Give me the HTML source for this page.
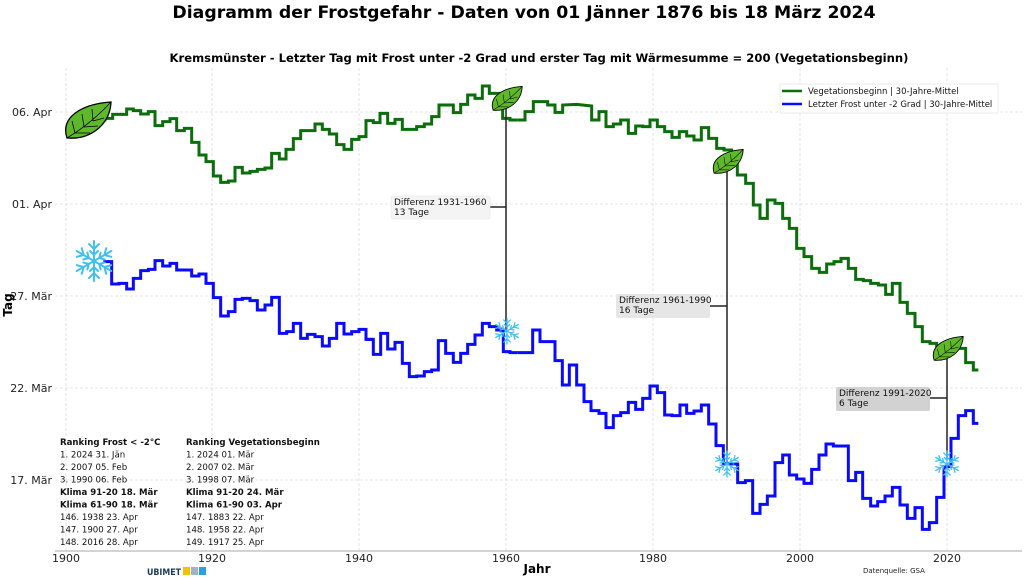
<!DOCTYPE html>
<html><head><meta charset="utf-8"><style>
body{margin:0;background:#fff;}
svg{display:block;font-family:"DejaVu Sans","Liberation Sans",sans-serif;}
</style></head><body>
<svg width="1024" height="578" viewBox="0 0 1024 578" xmlns="http://www.w3.org/2000/svg">
<defs>
<g id="leaf">
 <path d="M-21,17 C-28,-4 -6,-17 23,-19 C22,4 2,19 -21,17 Z" fill="#5fb82a" stroke="#000" stroke-width="1.3"/>
 <path d="M-21,17 C-6,8 10,-5 23,-19 M-13,12 L-16,0 M-13,12 L2,12 M-4,6 L-6,-7 M-4,6 L10,5 M5,0 L4,-12 M5,0 L16,-3" stroke="#000" stroke-width="0.8" fill="none"/>
</g>
<g id="flake" stroke="#3fc0f0" stroke-width="2" fill="none" stroke-linecap="round">
 <g id="arm"><line x1="0" y1="0" x2="0" y2="-20"/><polyline points="-5,-17 0,-12 5,-17"/><polyline points="-4,-10 0,-6 4,-10"/></g>
 <use href="#arm" transform="rotate(60)"/><use href="#arm" transform="rotate(120)"/><use href="#arm" transform="rotate(180)"/><use href="#arm" transform="rotate(240)"/><use href="#arm" transform="rotate(300)"/>
</g>
</defs>
<text x="524" y="18" text-anchor="middle" font-size="17.3" font-weight="bold">Diagramm der Frostgefahr - Daten von 01 Jänner 1876 bis 18 März 2024</text>
<text x="539" y="62" text-anchor="middle" font-size="11.6" font-weight="bold">Kremsmünster - Letzter Tag mit Frost unter -2 Grad und erster Tag mit Wärmesumme = 200 (Vegetationsbeginn)</text>
<g stroke="#dcdcdc" stroke-width="0.8" stroke-dasharray="3,2">
<line x1="66" y1="68" x2="66" y2="551"/><line x1="212" y1="68" x2="212" y2="551"/><line x1="359" y1="68" x2="359" y2="551"/><line x1="506" y1="68" x2="506" y2="551"/><line x1="653" y1="68" x2="653" y2="551"/><line x1="800" y1="68" x2="800" y2="551"/><line x1="947" y1="68" x2="947" y2="551"/>
<line x1="55" y1="112" x2="1022" y2="112"/><line x1="55" y1="204" x2="1022" y2="204"/><line x1="55" y1="296" x2="1022" y2="296"/><line x1="55" y1="388" x2="1022" y2="388"/><line x1="55" y1="480" x2="1022" y2="480"/>
</g>
<line x1="55" y1="551" x2="1022" y2="551" stroke="#aaa" stroke-width="1"/>
<g font-size="11" text-anchor="end" fill="#222">
<text x="52" y="116">06. Apr</text><text x="52" y="208">01. Apr</text><text x="52" y="300">27. Mär</text><text x="52" y="392">22. Mär</text><text x="52" y="484">17. Mär</text>
</g>
<g font-size="11" text-anchor="middle" fill="#222">
<text x="66" y="562">1900</text><text x="212" y="562">1920</text><text x="359" y="562">1940</text><text x="506" y="562">1960</text><text x="653" y="562">1980</text><text x="800" y="562">2000</text><text x="947" y="562">2020</text>
</g>
<text x="537" y="573" text-anchor="middle" font-size="12" font-weight="bold">Jahr</text>
<text transform="translate(12,305) rotate(-90)" text-anchor="middle" font-size="12" font-weight="bold">Tag</text>

<g fill="none" stroke="#0a6e0a" stroke-width="3">
<polyline vector-effect="non-scaling-stroke" transform="translate(0,60) scale(0.33333)" points="290,180 315,180 315,175 338,175 338,163 380,163 380,147 400,147 400,152 422,152 422,162 445,162 445,155 465,155 465,197 488,197 488,185 510,185 510,176 530,176 530,212 553,212 553,205 575,205 575,247 597,247 597,285 618,285 618,305 640,305 640,348 662,348 662,367 685,367 685,363 705,363 705,322 727,322 727,339 750,339 750,334 772,334 772,328 795,328 795,324 815,324 815,280 838,280 838,297 858,297 858,268 880,268 880,236 902,236 902,212 945,212 945,192 967,192 967,208 988,208 988,222 1010,222 1010,254 1032,254 1032,268 1055,268 1055,238 1077,238 1077,230 1098,230 1098,182 1120,182 1120,188 1140,188 1140,160 1163,160 1163,190 1185,190 1185,178 1207,178 1207,208 1250,208 1250,200 1273,200 1273,192 1295,192 1295,170 1317,170 1317,135 1360,135 1360,158 1382,158 1382,133 1403,133 1403,105 1425,105 1425,115 1447,115 1447,78 1468,78 1468,100 1508,100 1508,175 1530,175 1530,180 1553,180"/>
<polyline vector-effect="non-scaling-stroke" transform="translate(500,60) scale(0.33333)" points="53,180 75,180 75,155 100,155 100,125 143,125 143,135 165,135 165,157 188,157 188,135 230,133 275,138 275,180 297,180 297,155 318,155 318,200 340,200 340,192 362,192 362,180 385,180 385,220 407,220 407,198 428,198 428,200 450,200 450,180 472,180 472,200 494,200 494,215 516,215 516,232 538,232 538,215 560,215 560,228 582,228 582,240 604,240 604,203 626,203 626,235 650,235 650,265 672,265 672,270 695,270 695,295 712,295 712,345 737,345 737,370 760,370 760,435 780,435 780,475 802,475 802,420 825,420 825,430 848,430 848,475 868,475 868,505 890,505 890,565 912,565 912,590 935,590 935,625 958,625 958,637 980,637 980,612 1002,612 1002,605 1023,605 1023,595 1045,595 1045,625 1067,625 1067,658 1090,658 1090,662 1112,662 1112,670 1135,670 1135,675 1157,675 1157,703 1177,703 1177,670 1200,670 1200,727 1222,727 1222,760 1245,760 1245,800 1267,800 1267,845 1290,845 1290,850 1310,850 1310,858 1375,865 1397,865 1397,908 1420,908 1420,930 1435,930"/>
</g>
<g fill="none" stroke="#0a0aff" stroke-width="3">
<polyline vector-effect="non-scaling-stroke" transform="translate(0,60) scale(0.33333)" points="310,605 335,605 335,672 357,672 357,670 380,670 380,687 400,687 400,655 422,655 422,632 445,632 445,628 465,628 465,602 488,602 488,618 510,618 510,610 530,610 530,630 575,630 575,648 597,648 597,642 618,642 618,670 640,670 640,713 662,713 662,768 685,768 685,755 705,755 705,718 727,718 727,715 750,715 750,722 772,722 772,750 795,750 795,735 815,735 815,712 838,712 838,820 860,820 860,815 880,815 880,790 902,790 902,835 922,835 922,823 945,823 945,830 967,830 967,858 988,858 988,835 1010,835 1010,790 1032,790 1032,822 1055,822 1055,815 1077,815 1077,808 1098,808 1098,838 1120,838"/>
<polyline vector-effect="non-scaling-stroke" transform="translate(0,330) scale(0.33333)" points="1098,28 1120,28 1120,73 1142,73 1142,10 1163,10 1163,57 1185,57 1185,37 1207,37 1207,100 1228,100 1228,140 1250,140 1250,138 1273,138 1273,125 1295,125 1295,120 1315,120 1315,32 1337,32 1337,70 1360,70 1360,97 1382,97 1382,70 1403,70 1403,43 1425,43 1425,15 1447,15 1447,-20 1468,-20 1468,-10 1490,-10 1490,0 1510,0 1510,65 1530,65 1530,68 1552,68"/>
<polyline vector-effect="non-scaling-stroke" transform="translate(500,330) scale(0.33333)" points="52,68 98,68 98,0 120,0 120,35 165,35 165,92 187,92 187,165 208,165 208,105 230,105 230,165 252,165 252,215 273,215 273,242 297,242 297,250 318,250 318,293 340,293 340,257 362,257 362,248 385,248 385,217 407,217 407,238 428,238 428,205 450,205 450,168 472,168 472,188 494,188 494,255 516,255 516,257 540,257 540,225 560,225 560,250 582,250 582,243 604,243 604,225 626,225 626,282 648,282 648,347 670,347 670,400 692,400 692,402 713,402 713,458 736,458 736,452 758,452 758,550 780,550 780,523 802,523 802,498 825,498 825,398 848,398 848,375 868,375 868,435 890,435 890,447 912,447 912,460 935,460 935,418 957,418 957,375 978,375 978,342 1000,342 1000,348 1045,348 1045,452 1067,452 1067,427 1088,427 1088,505 1112,505 1112,528 1133,528 1133,515 1155,515 1155,498 1177,498 1177,472 1200,472 1200,525 1222,525 1222,565 1245,565 1245,533 1267,533 1267,598 1288,598 1288,578 1310,578 1310,502 1332,502 1332,410 1353,410 1353,325 1375,325 1375,257 1397,257 1397,242 1420,242 1420,280 1435,280"/>
</g>
<g stroke="#222" stroke-width="1.5" fill="none">
<line x1="506" y1="100" x2="506" y2="330"/><line x1="490" y1="207" x2="506" y2="207"/>
<line x1="727" y1="170" x2="727" y2="465"/><line x1="710" y1="306" x2="727" y2="306"/>
<line x1="947" y1="355" x2="947" y2="460"/><line x1="930" y1="398" x2="947" y2="398"/>
</g>
<rect x="391" y="196" width="99" height="23" rx="2" fill="#f4f4f4" stroke="#e4e4e4" stroke-width="0.6"/>
<rect x="616" y="294" width="94" height="24" rx="2" fill="#e6e6e6"/>
<rect x="836" y="387" width="94" height="24" rx="2" fill="#d2d2d2"/>
<g font-size="9" fill="#111">
<text x="394" y="205">Differenz 1931-1960</text><text x="394" y="215">13 Tage</text>
<text x="619" y="303">Differenz 1961-1990</text><text x="619" y="313">16 Tage</text>
<text x="839" y="396">Differenz 1991-2020</text><text x="839" y="406">6 Tage</text>
</g>
<use href="#leaf" transform="translate(88,121)"/>
<use href="#leaf" transform="translate(507,99) scale(0.66)"/>
<use href="#leaf" transform="translate(728,162) scale(0.66)"/>
<use href="#leaf" transform="translate(948,349) scale(0.66)"/>
<use href="#flake" transform="translate(94,261) scale(1.0)"/>
<use href="#flake" transform="translate(507,331) scale(0.65)"/>
<use href="#flake" transform="translate(727,464) scale(0.65)"/>
<use href="#flake" transform="translate(947,464) scale(0.65)"/>
<rect x="780" y="84" width="218" height="29" fill="#fff" stroke="#e6e6e6" stroke-width="0.8"/>
<line x1="782" y1="91" x2="802" y2="91" stroke="#0a6e0a" stroke-width="2.5"/>
<line x1="782" y1="104" x2="802" y2="104" stroke="#0a0aff" stroke-width="2.5"/>
<g font-size="8.5" fill="#111"><text x="808" y="94">Vegetationsbeginn | 30-Jahre-Mittel</text><text x="808" y="107">Letzter Frost unter -2 Grad | 30-Jahre-Mittel</text></g>
<g font-size="8.6" fill="#111">
<text x="60" y="445" font-weight="bold">Ranking Frost &lt; -2°C</text>
<text x="60" y="457.5">1.  2024 31. Jän</text>
<text x="60" y="470">2.  2007 05. Feb</text>
<text x="60" y="482.5">3.  1990 06. Feb</text>
<text x="60" y="495" font-weight="bold">Klima 91-20 18. Mär</text>
<text x="60" y="507.5" font-weight="bold">Klima 61-90 18. Mär</text>
<text x="60" y="520">146.  1938 23. Apr</text>
<text x="60" y="532.5">147.  1900 27. Apr</text>
<text x="60" y="545">148.  2016 28. Apr</text>
<text x="186" y="445" font-weight="bold">Ranking Vegetationsbeginn</text>
<text x="186" y="457.5">1.  2024 01. Mär</text>
<text x="186" y="470">2.  2007 02. Mär</text>
<text x="186" y="482.5">3.  1998 07. Mär</text>
<text x="186" y="495" font-weight="bold">Klima 91-20 24. Mär</text>
<text x="186" y="507.5" font-weight="bold">Klima 61-90 03. Apr</text>
<text x="186" y="520">147.  1883 22. Apr</text>
<text x="186" y="532.5">148.  1958 22. Apr</text>
<text x="186" y="545">149.  1917 25. Apr</text>
</g>
<text x="147" y="575" font-size="8.5" font-weight="bold" fill="#1a3a5a" textLength="34" lengthAdjust="spacingAndGlyphs">UBIMET</text>
<rect x="183" y="567" width="7" height="8" fill="#f5c000"/><rect x="191" y="567" width="7" height="8" fill="#9fb4c4"/><rect x="199" y="567" width="7" height="8" fill="#2aa0e0"/>
<text x="863" y="573" font-size="7" fill="#222">Datenquelle: GSA</text>
</svg>
</body></html>
